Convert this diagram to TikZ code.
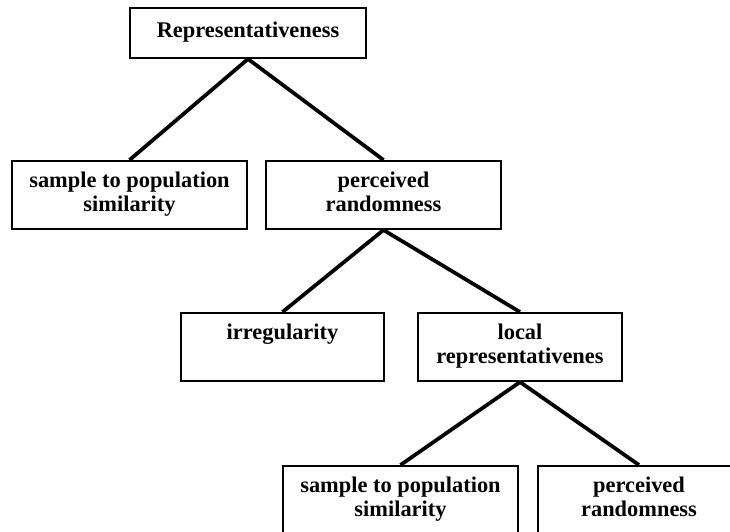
\documentclass[tikz,border=0pt]{standalone}
\usepackage{fontspec}
\setmainfont{Liberation Serif}
\begin{document}
\begin{tikzpicture}[x=0.75pt,y=-0.75pt,
  box/.style={draw=black, line width=1.5pt, rectangle, inner sep=0pt,
    minimum height=51pt, align=center, fill=white,
    font=\bfseries\fontsize{16.8pt}{18pt}\selectfont},
  conn/.style={draw=black, line width=2.8pt}]
\useasboundingbox (0,0) rectangle (730,531);
\clip (0,0) rectangle (730,531);
\fill[white] (0,0) rectangle (730,531);
\node[box, minimum width=177pt, minimum height=37.5pt] (top) at (248,33) {\strut Representativeness};
\node[box, minimum width=176pt] (a) at (129.5,195) {\strut sample to population\\\strut similarity};
\node[box, minimum width=176pt] (b) at (383.5,195) {\strut perceived\\\strut randomness};
\node[box, minimum width=152pt] (c) at (282.5,347) {\strut irregularity\\\strut};
\node[box, minimum width=153pt] (d) at (520,347) {\strut local\\\strut representativenes};
\node[box, minimum width=176pt] (e) at (400.5,500) {\strut sample to population\\\strut similarity};
\node[box, minimum width=151.5pt] (f) at (639,500) {\strut perceived\\\strut randomness};
\draw[conn] (top.south) -- (a.north);
\draw[conn] (top.south) -- (b.north);
\draw[conn] (b.south) -- (c.north);
\draw[conn] (b.south) -- (d.north);
\draw[conn] (d.south) -- (e.north);
\draw[conn] (d.south) -- (f.north);
\end{tikzpicture}
\end{document}
